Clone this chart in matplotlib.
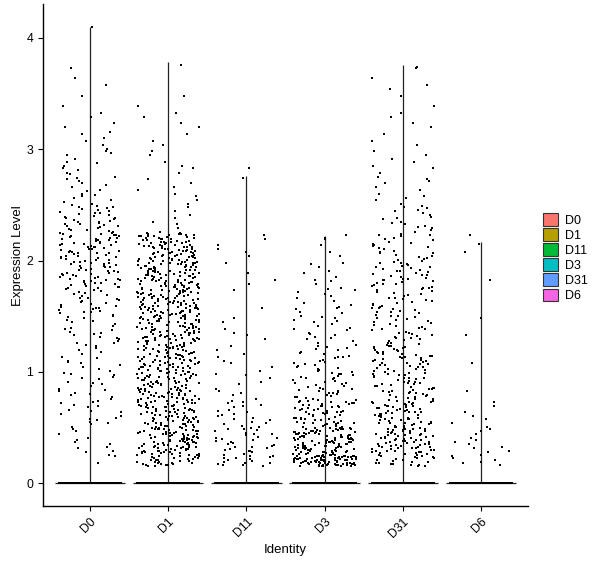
import numpy as np
import matplotlib
matplotlib.use("Agg")
import matplotlib.pyplot as plt
from matplotlib.patches import Patch

plt.rcParams['font.family'] = ['Liberation Sans', 'DejaVu Sans']

# ---- data ----
groups = ["D0", "D1", "D11", "D3", "D31", "D6"]
colors = ["#F8766D", "#B79F00", "#00BA38", "#00BFC4", "#619CFF", "#F564E3"]
# bin edges for nonzero expression values
bin_edges = [0.15, 0.25, 0.5, 0.75, 1.0, 1.25, 1.5, 1.75, 2.0, 2.25, 2.5, 2.75,
             3.0, 3.25, 3.5, 3.75, 4.0, 4.25]
# counts of nonzero cells per bin, per group
counts_D0 = [2, 12, 18, 18, 15, 20, 30, 45, 50, 35, 15, 12, 8, 4, 3, 0, 0]
counts_D1 = [30, 90, 85, 80, 80, 85, 90, 90, 80, 8, 8, 6, 5, 4, 0, 0, 0]
counts_D11 = [15, 30, 20, 10, 8, 6, 2, 4, 6, 0, 0, 1, 0, 0, 0, 0, 0]
counts_D3 = [80, 110, 60, 35, 25, 18, 15, 10, 5, 0, 0, 0, 0, 0, 0, 0, 0]
counts_D31 = [20, 70, 60, 45, 45, 30, 30, 35, 25, 18, 10, 8, 5, 4, 4, 0, 0]
counts_D6 = [6, 12, 7, 1, 1, 2, 0, 1, 2, 0, 0, 0, 0, 0, 0, 0, 0]
# maximum value per group (top of each violin)
max_vals = [4.10, 3.78, 2.76, 2.22, 3.76, 2.17]
# number of zero-expression cells per group
zero_counts = [1500, 1500, 1500, 1500, 1500, 1500]

all_counts = [counts_D0, counts_D1, counts_D11, counts_D3, counts_D31, counts_D6]

fig = plt.figure(figsize=(6.0, 5.68), dpi=100)
ax = fig.add_axes([43/600, 1-506/568, (528-43)/600, (506-4)/568])

rng = np.random.default_rng(7)  # only for horizontal jitter, like geom_jitter
xs = np.arange(1, len(groups) + 1)
golden = 0.6180339887

for i, (g, cnts) in enumerate(zip(groups, all_counts)):
    x0 = xs[i]
    # violin (degenerate: all mass at zero) -> width line at 0 and spine up to max
    ax.hlines(0, x0 - 0.45, x0 + 0.45, color="#222222", lw=0.9, zorder=2)
    ax.vlines(x0, 0, max_vals[i], color="#222222", lw=0.9, zorder=2)
    # nonzero values, spread evenly within their bins
    vals = []
    for b, n in enumerate(cnts):
        lo, hi = bin_edges[b], bin_edges[b + 1]
        if n > 0:
            frac = (np.arange(n) * golden + 0.5 * golden) % 1.0
            vals.extend(lo + frac * (hi - lo))
    vals.append(max_vals[i] if max_vals[i] > 3.9 else max_vals[i] - 0.02)
    vals = np.array(vals)
    jx = x0 + rng.uniform(-0.4, 0.4, size=len(vals))
    ax.scatter(jx, vals, s=3.6, marker="s", color="black", linewidths=0, zorder=3)
    zx = x0 + rng.uniform(-0.4, 0.4, size=zero_counts[i])
    ax.scatter(zx, np.zeros(zero_counts[i]), s=4.2, marker="s", color="black",
               linewidths=0, zorder=3)

ax.set_xlim(0.4, 6.6)
ax.set_ylim(-0.206, 4.305)
ax.set_xticks(xs)
ax.set_xticklabels(groups, rotation=45, ha="right", va="top",
                   rotation_mode="anchor", fontsize=8.8)
ax.set_yticks([0, 1, 2, 3, 4])
ax.set_yticklabels(["0", "1", "2", "3", "4"], fontsize=8.8)
ax.tick_params(axis="both", direction="out", length=3.5, width=0.8, colors="black")
for s in ["top", "right"]:
    ax.spines[s].set_visible(False)
for s in ["left", "bottom"]:
    ax.spines[s].set_linewidth(1.0)
    ax.spines[s].set_color("black")

ax.set_xlabel("Identity", fontsize=9.5, labelpad=3)
fig.text(18/600, 1 - 255.5/568, "Expression Level", rotation=90,
         ha="center", va="center", fontsize=9.5)

handles = [Patch(facecolor=c, edgecolor="#333333", linewidth=0.8) for c in colors]
leg = ax.legend(handles, groups, loc="center left", bbox_to_anchor=(1.03, 0.495),
                frameon=False, fontsize=9, handlelength=1.2, handleheight=1.2,
                handletextpad=0.6, labelspacing=0.12, borderpad=0, borderaxespad=0)

fig.savefig("out.png", dpi=100)
